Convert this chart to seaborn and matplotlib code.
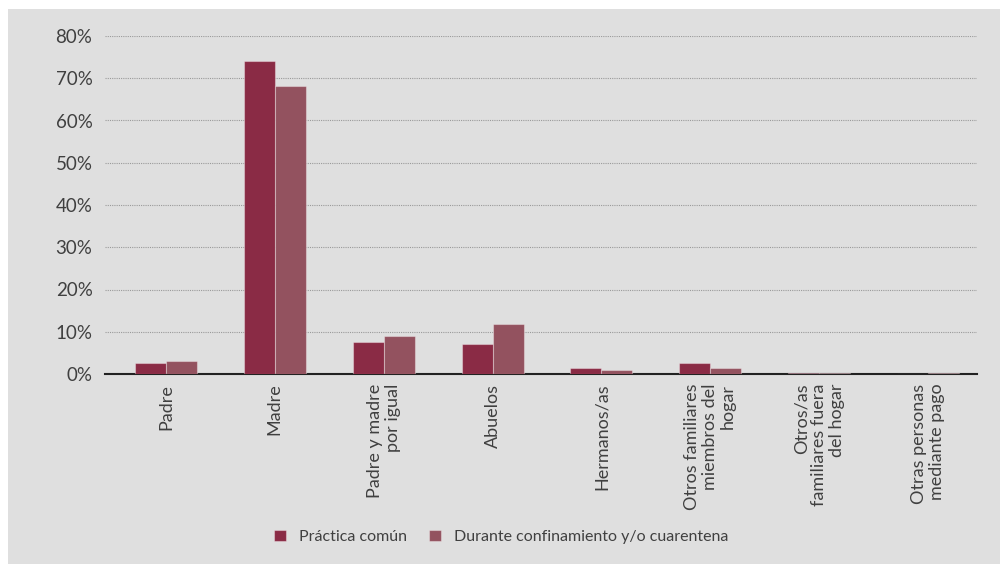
import matplotlib
matplotlib.use("Agg")
import matplotlib.pyplot as plt
import seaborn as sns
import pandas as pd
from matplotlib.patches import Rectangle

categories = [
    "Padre",
    "Madre",
    "Padre y madre\npor igual",
    "Abuelos",
    "Hermanos/as",
    "Otros familiares\nmiembros del\nhogar",
    "Otros/as\nfamiliares fuera\ndel hogar",
    "Otras personas\nmediante pago",
]
series_names = ["Práctica común", "Durante confinamiento y/o cuarentena"]
practica = [2.5, 74.2, 7.6, 7.2, 1.5, 2.5, 0.3, 0.0]
confinamiento = [3.0, 68.1, 9.1, 11.9, 1.0, 1.5, 0.3, 0.3]
yticks = [0, 10, 20, 30, 40, 50, 60, 70, 80]
ytick_labels = ["0%", "10%", "20%", "30%", "40%", "50%", "60%", "70%", "80%"]

colors = ["#8A2B45", "#93525F"]
bg = "#DFDFDF"
text_color = "#404040"

df = pd.DataFrame({
    "cat": categories * 2,
    "serie": [series_names[0]] * len(categories) + [series_names[1]] * len(categories),
    "valor": practica + confinamiento,
})

sns.set_theme(style="white")
plt.rcParams["font.family"] = ["Lato", "DejaVu Sans"]

fig = plt.figure(figsize=(10.06, 5.64), dpi=100)
fig.patch.set_facecolor("white")
fig.patches.append(Rectangle((8 / 1006, 0), (1000 - 8) / 1006, 1 - 9 / 564,
                             transform=fig.transFigure, facecolor=bg,
                             edgecolor="none", zorder=-10))

ax = fig.add_axes([105 / 1006, 1 - 374 / 564, (977 - 105) / 1006, (374 - 36) / 564])
ax.set_facecolor(bg)

sns.barplot(data=df, x="cat", y="valor", hue="serie", order=categories,
            hue_order=series_names, palette=colors, width=0.57, ax=ax,
            edgecolor=(1, 1, 1, 0.35), linewidth=0.8, saturation=1, legend=True,
            zorder=3)

ax.set_xlim(-0.56, len(categories) - 0.55)
ax.set_ylim(0, 80)
ax.set_yticks(yticks)
ax.set_yticklabels(ytick_labels, fontsize=13.5, color=text_color)
ax.set_xticks(range(len(categories)))
ax.set_xticklabels(categories, rotation=90, fontsize=13, color=text_color,
                   ha="center", va="top", multialignment="right", linespacing=1.15)
ax.tick_params(axis="both", length=0)
ax.tick_params(axis="x", pad=7)
ax.tick_params(axis="y", pad=9)
ax.set_xlabel("")
ax.set_ylabel("")

for y in yticks[1:]:
    ax.axhline(y, color="#9A9A9A", lw=0.8, ls=(0, (1, 1)), zorder=1)

for s in ["left", "right", "top"]:
    ax.spines[s].set_visible(False)
ax.spines["bottom"].set_color("#222222")
ax.spines["bottom"].set_linewidth(1.5)
ax.spines["bottom"].set_zorder(2)

handles, labels = ax.get_legend_handles_labels()
ax.legend_.remove()
fig.legend(handles, labels, loc="center", bbox_to_anchor=(501 / 1006, 1 - 537 / 564),
           ncol=2, frameon=False, handlelength=0.75, handleheight=0.75,
           handletextpad=0.8, columnspacing=1.4, labelcolor=text_color,
           prop={"family": ["Lato", "DejaVu Sans"], "size": 11.5})

fig.savefig("out.png", dpi=100, facecolor=fig.get_facecolor())
